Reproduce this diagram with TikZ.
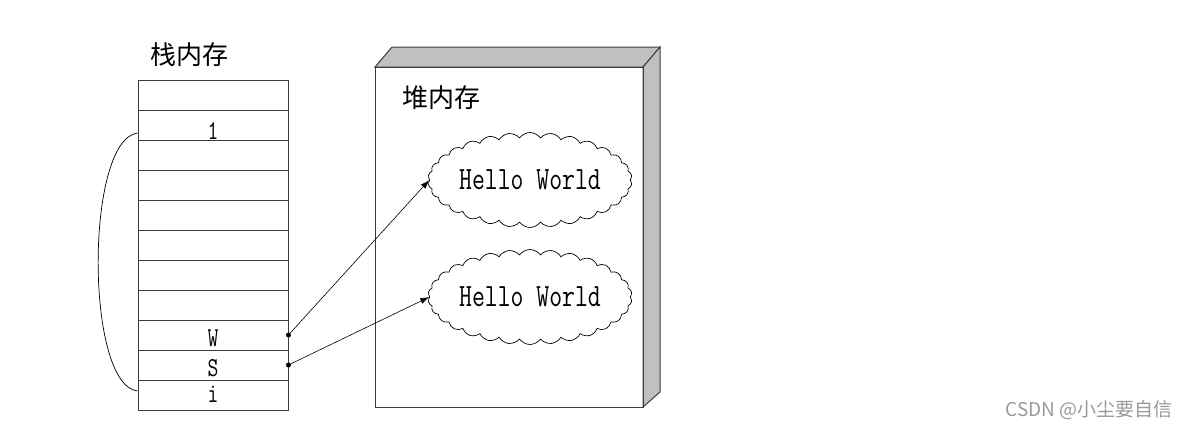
\documentclass[tikz,border=0pt]{standalone}
\usepackage{fontspec}
\usepackage{tikz}
\usetikzlibrary{arrows.meta,positioning,shapes.symbols}
\newfontfamily\cjkfont{Noto Sans CJK SC}
\definecolor{heapgray}{HTML}{C0C0C0}
\definecolor{edgegray}{HTML}{3C3C3C}
\newcommand{\tallmono}[1]{\scalebox{1}[1.3]{#1}}

\begin{document}
\begin{tikzpicture}[x=1pt,y=-1pt,
  cell/.style={draw=edgegray,line width=0.9pt,minimum width=150pt,minimum height=30pt,inner sep=0pt},
  cellnote/.style={font=\ttfamily\fontsize{21}{21}\selectfont,inner sep=0pt,anchor=base},
  hello/.style={cloud,draw=black,line width=0.7pt,cloud puffs=30,cloud puff arc=110,
    cloud ignores aspect,minimum width=204pt,minimum height=95pt,inner sep=0pt,
    font=\ttfamily\fontsize{25}{25}\selectfont},
  ptr/.style={-{Latex[length=9pt,width=6pt]},line width=0.6pt}]
  \useasboundingbox (0,0) rectangle (1190,429);
  % stack
  \node[font=\cjkfont\fontsize{26}{26}\selectfont] (stacktitle) at (189,55) {栈内存};
  \foreach \i in {1,...,11}
    \node[cell] (c\i) at (213,65+30*\i) {};
  \node[cellnote] (one) at ([yshift=1pt]c2.south) {\tallmono{1}};
  \node[cellnote] (w) at ([yshift=4pt]c9.south) {\tallmono{W}};
  \node[cellnote] (s) at ([yshift=4pt]c10.south) {\tallmono{S}};
  \node[cellnote] (ii) at ([yshift=8pt]c11.south) {\tallmono{i}};
  \draw[line width=0.7pt] ([yshift=-8pt]c2.west) .. controls (85,140) and (85,385) .. ([yshift=4pt]c11.west);
  % heap
  \filldraw[fill=heapgray,draw=edgegray,line width=1pt] (375,67) -- (392,47) -- (660,47) -- (643,67) -- cycle;
  \filldraw[fill=heapgray,draw=edgegray,line width=1pt] (643,67) -- (660,47) -- (660,392) -- (643,407) -- cycle;
  \node[draw=edgegray,line width=1pt,minimum width=268pt,minimum height=340pt,inner sep=0pt] (heap) at (509,237) {};
  \node[font=\cjkfont\fontsize{26}{26}\selectfont] (heaptitle) at (441,98) {堆内存};
  \node[hello] (h1) at (530,180) {\tallmono{Hello World}};
  \node[hello] (h2) at (530,297) {\tallmono{Hello World}};
  % references
  \fill (c9.east) circle (2.5pt);
  \fill (c10.east) circle (2.5pt);
  \draw[ptr] (c9.east) -- (h1.west);
  \draw[ptr] (c10.east) -- (h2.west);
  \node[font=\cjkfont\fontsize{19}{19}\selectfont,text=gray!80] (mark) at (1089,410) {CSDN @小尘要自信};
\end{tikzpicture}
\end{document}
